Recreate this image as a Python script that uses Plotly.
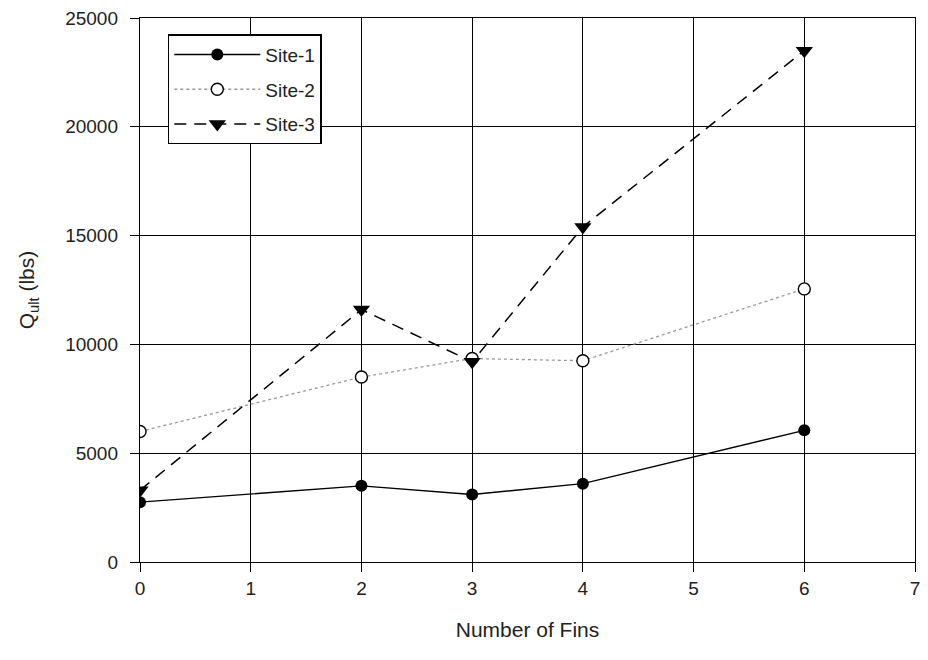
import plotly.graph_objects as go

# Number of fins tested at each site
fins_site1 = [0, 2, 3, 4, 6]
fins_site2 = [0, 2, 3, 4, 6]
fins_site3 = [0, 2, 3, 4, 6]

# Ultimate capacity Q_ult (lbs)
qult_site1 = [2750, 3500, 3100, 3600, 6050]
qult_site2 = [6000, 8500, 9350, 9250, 12550]
qult_site3 = [3300, 11600, 9200, 15400, 23500]

x_ticks = [0, 1, 2, 3, 4, 5, 6, 7]
y_ticks = [0, 5000, 10000, 15000, 20000, 25000]
y_tick_labels = ["0", "5000", "10000", "15000", "20000", "25000"]

font = "Liberation Sans, Arial, sans-serif"

fig = go.Figure()
fig.add_trace(go.Scatter(
    x=fins_site1, y=qult_site1, name="Site-1", mode="lines+markers",
    legendgroup="s1",
    line=dict(color="black", width=1.4),
    marker=dict(symbol="circle", size=12, color="black"),
))
fig.add_trace(go.Scatter(
    x=fins_site2, y=qult_site2, name="Site-2", mode="lines+markers",
    legendgroup="s2",
    line=dict(color="#999999", width=1.3, dash="dot"),
    marker=dict(symbol="circle", size=12, color="white",
                line=dict(color="black", width=1.4)),
))
fig.add_trace(go.Scatter(
    x=fins_site3, y=qult_site3, name="Site-3", mode="lines+markers",
    legendgroup="s3",
    line=dict(color="black", width=1.5, dash="12px,8px"),
    marker=dict(symbol="triangle-down", size=15, color="black"),
))

axis_common = dict(
    showgrid=True, gridcolor="black", gridwidth=1.3,
    showline=True, linecolor="black", linewidth=1.4, mirror=True,
    ticks="outside", ticklen=9, tickcolor="black", tickwidth=1.3,
    zeroline=False,
    tickfont=dict(family=font, size=19, color="#222222"),
    title_font=dict(family=font, size=21, color="#222222"),
)

fig.update_xaxes(
    range=[0, 7], tickvals=x_ticks,
    title_text="Number of Fins", title_standoff=24,
    **axis_common,
)
fig.update_yaxes(
    range=[0, 25000], tickvals=y_ticks, ticktext=y_tick_labels,
    ticklabelstandoff=8,
    title_text="Q<sub>ult</sub> (lbs)", title_standoff=24,
    **axis_common,
)

fig.update_layout(
    width=928, height=660,
    margin=dict(l=140, r=8, t=18, b=98),
    paper_bgcolor="white", plot_bgcolor="white",
    showlegend=True,
    legend=dict(
        x=0.036, y=0.97, xanchor="left", yanchor="top",
        bgcolor="white", bordercolor="black", borderwidth=1.4,
        font=dict(family=font, size=19, color="#222222"),
        itemwidth=86, traceorder="grouped", tracegroupgap=7,
    ),
)

fig.write_html("out.html")
